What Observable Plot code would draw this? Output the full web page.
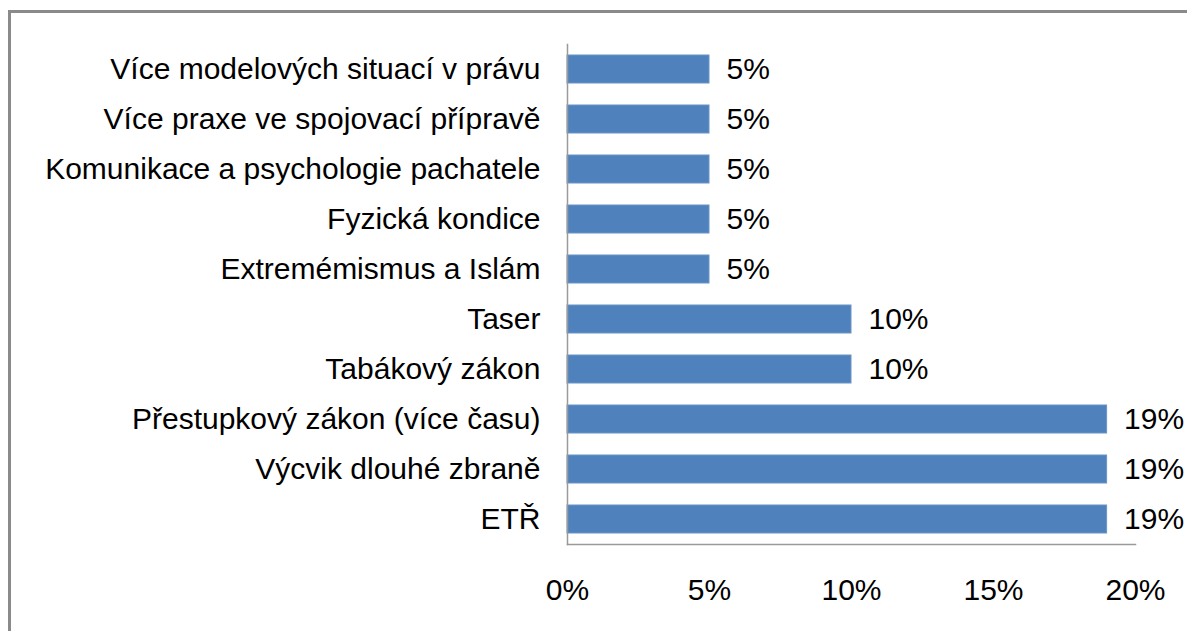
<!DOCTYPE html>
<html>
<head>
<meta charset="utf-8">
<script src="https://cdn.jsdelivr.net/npm/d3@7"></script>
<script src="https://cdn.jsdelivr.net/npm/@observablehq/plot@0.6"></script>
<style>
  html, body { margin: 0; padding: 0; background: #fff; overflow: hidden; }
  #wrap { position: relative; width: 1187px; height: 631px; }
  #border { position: absolute; left: 8px; top: 10px; width: 1300px; height: 800px; border: 3px solid #8a8a8a; box-sizing: border-box; }
  #chart { position: absolute; left: 0; top: 0; }
</style>
</head>
<body>
<div id="wrap">
  <div id="border"></div>
  <div id="chart"></div>
</div>
<script>
const categories = [
  "Více modelových situací v právu",
  "Více praxe ve spojovací přípravě",
  "Komunikace a psychologie pachatele",
  "Fyzická kondice",
  "Extremémismus a Islám",
  "Taser",
  "Tabákový zákon",
  "Přestupkový zákon (více času)",
  "Výcvik dlouhé zbraně",
  "ETŘ"
];
const values = [0.05, 0.05, 0.05, 0.05, 0.05, 0.10, 0.10, 0.19, 0.19, 0.19];
const xTicks = [0, 0.05, 0.10, 0.15, 0.20];

const data = categories.map((c, i) => ({category: c, value: values[i]}));
const pct = d3.format(".0%");

const chart = Plot.plot({
  width: 1187,
  height: 631,
  marginLeft: 567,
  marginRight: 52,
  marginTop: 44,
  marginBottom: 87,
  style: {fontFamily: "'Liberation Sans', Arial, sans-serif", background: "transparent"},
  x: {domain: [0, 0.20], axis: null, label: null},
  y: {domain: categories, paddingInner: 0.44, paddingOuter: 0.22, axis: null, label: null},
  marks: [
    Plot.barX(data, {x: "value", y: "category", fill: "#4F81BD", stroke: "#6a95c8", strokeWidth: 1}),
    Plot.text(data, {x: "value", y: "category", text: d => pct(d.value), textAnchor: "start", dx: 17, fontSize: 30, fill: "#000"}),
    Plot.axisY({tickSize: 0, tickPadding: 27, fontSize: 30, color: "#000", textAnchor: "end", label: null}),
    Plot.axisX({ticks: xTicks, tickFormat: pct, tickSize: 0, tickPadding: 34, fontSize: 30, color: "#000", label: null}),
    Plot.frame({anchor: "left", stroke: "#9a9a9a", strokeWidth: 1.5}),
    Plot.frame({anchor: "bottom", stroke: "#9a9a9a", strokeWidth: 1.5})
  ]
});
document.getElementById("chart").appendChild(chart);
</script>
</body>
</html>
